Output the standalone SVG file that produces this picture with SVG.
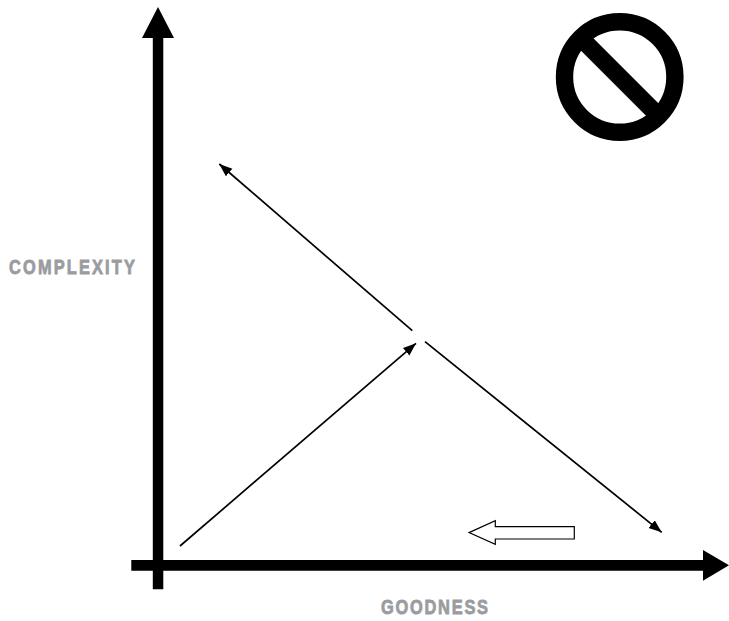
<svg xmlns="http://www.w3.org/2000/svg" width="729" height="621" viewBox="0 0 729 621">
<style>
.lbl{font-family:"Liberation Sans",Arial,sans-serif;font-weight:700;font-size:20px;fill:#9a9ca0;stroke:#9a9ca0;stroke-width:.8}
.thin{fill:none;stroke:#000;stroke-width:1.7}
</style>
<defs>
<marker id="tip" markerUnits="userSpaceOnUse" markerWidth="14" markerHeight="11" refX="13" refY="5" orient="auto"><path d="M0 0L13 5L0 10Z" fill="#000"/></marker>
</defs>
<rect width="729" height="621" fill="#fff"/>
<g id="connectors">
<path id="y-axis" d="M152.8 589.3V38H142L158 7L174 38H163.3V589.3Z" fill="#000"/>
<path id="x-axis" d="M131.3 560H703V550L729 565.3L703 580.7V570.7H131.3Z" fill="#000"/>
<line class="thin" x1="412.3" y1="330.7" x2="219.3" y2="164" marker-end="url(#tip)"/>
<line class="thin" x1="425" y1="341.7" x2="661.7" y2="532.3" marker-end="url(#tip)"/>
<line class="thin" x1="180" y1="546" x2="416" y2="343.3" marker-end="url(#tip)"/>
</g>
<g id="no-symbol" fill="none" stroke="#000" stroke-width="17.4">
<circle cx="619.7" cy="77" r="55.2"/>
<line x1="580.7" y1="38" x2="658.7" y2="116"/>
</g>
<g id="hollow-arrow">
<path d="M469 532.6L495.3 520.7V526.7H574.3V539H495.3V544.3Z" fill="#fff" stroke="#000" stroke-width="1.2"/>
</g>
<g id="label-complexity">
<text class="lbl" transform="translate(9 274) scale(.82 1)" textLength="153.5" lengthAdjust="spacing">COMPLEXITY</text>
</g>
<g id="label-goodness">
<text class="lbl" transform="translate(381 614) scale(.82 1)" textLength="130.5" lengthAdjust="spacing">GOODNESS</text>
</g>
</svg>
